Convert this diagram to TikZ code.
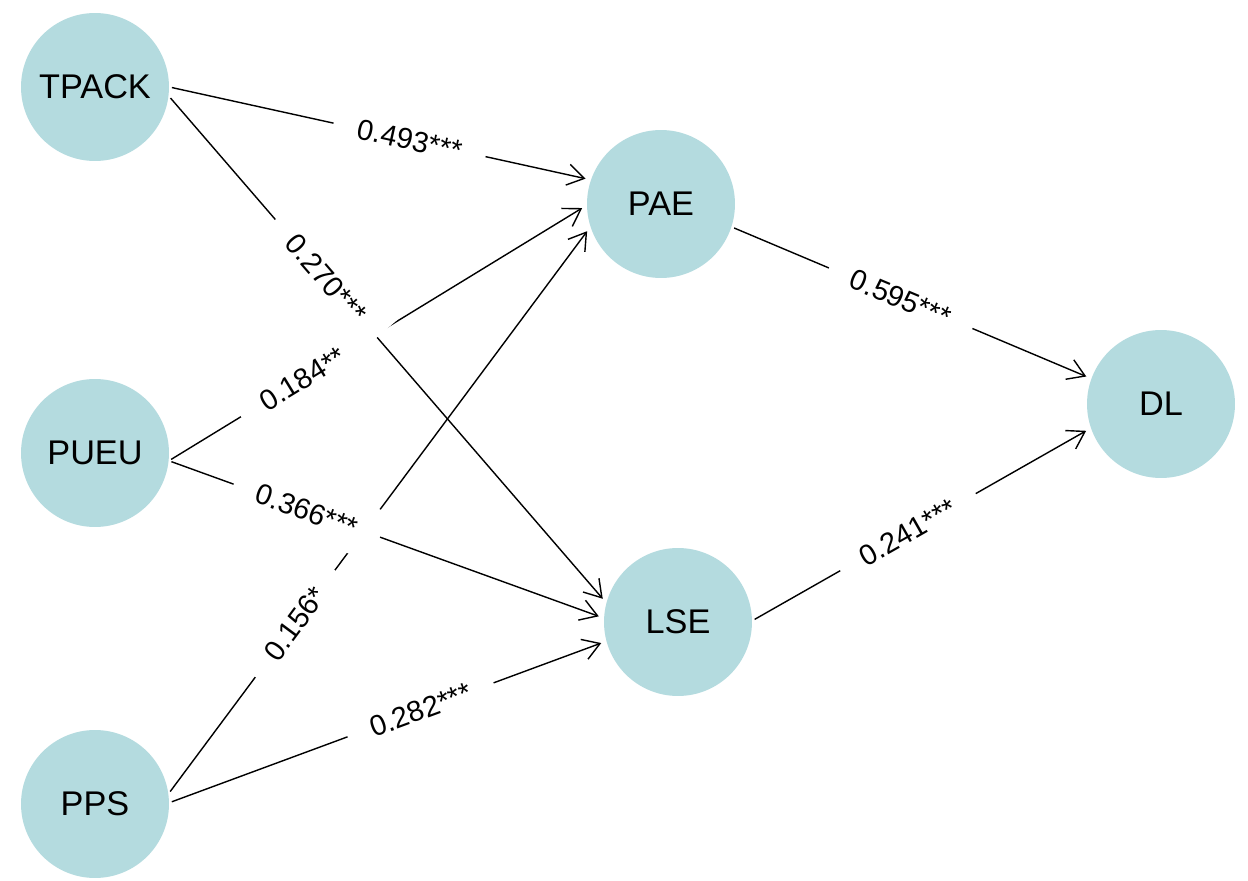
\documentclass[tikz,border=0pt]{standalone}
\usepackage{fontspec}
\setmainfont{Liberation Sans}
\usetikzlibrary{arrows.meta}
\definecolor{nodefill}{RGB}{180,219,223}
\begin{document}
\begin{tikzpicture}[x=0.02cm,y=-0.02cm,
  var/.style={circle, fill=nodefill, draw=none, minimum size=2.96cm, inner sep=0pt,
    font=\fontsize{19.5}{23}\selectfont},
  edge/.style={draw=black, line width=0.8pt,
    -{Straight Barb[length=9.5pt,width=12pt,line width=0.8pt]},
    shorten >=3pt, shorten <=1.5pt},
  lab/.style={fill=white, inner xsep=14pt, inner ysep=9pt, sloped, anchor=center,
    font=\fontsize{16.5}{19}\selectfont}]
\fill[white] (0,0) rectangle (1248,881);
\useasboundingbox (0,0) rectangle (1248,881);

\node[var] (TPACK) at (95,87) {TPACK};
\node[var] (PUEU) at (95,453) {PUEU};
\node[var] (PPS) at (95,804) {PPS};
\node[var] (PAE) at (661,204) {PAE};
\node[var] (LSE) at (678,622) {LSE};
\node[var] (DL) at (1161,404) {DL};

\draw[edge] (TPACK.0) -- (PAE.161);
\draw[edge] (TPACK.-7.5) -- (LSE.165);
\draw[edge] (PUEU.-6.5) -- (PAE.181);
\draw[edge] (PUEU.-6.5) -- (LSE.177);
\draw[edge] (PPS.8) -- (PAE.198);
\draw[edge] (PPS.1.5) -- (LSE.195);
\draw[edge] (PAE.-18) -- (DL.160);
\draw[edge] (LSE.1) -- (DL.199);

\path (TPACK.0) -- (PAE.161) node[lab,pos=0.57] (l1) {0.493***};
\path (TPACK.-7.5) -- (LSE.165) node[lab,pos=0.36] (l2) {0.270***};
\path (PUEU.-6.5) -- (PAE.181) node[lab,pos=0.32] (l3) {0.184**};
\path (PUEU.-6.5) -- (LSE.177) node[lab,pos=0.317] (l4) {0.366***};
\path (PPS.8) -- (PAE.198) node[lab,pos=0.30] (l5) {0.156*};
\path (PPS.1.5) -- (LSE.195) node[lab,pos=0.575] (l6) {0.282***};
\path (PAE.-18) -- (DL.160) node[lab,pos=0.47] (l7) {0.595***};
\path (LSE.1) -- (DL.199) node[lab,pos=0.46] (l8) {0.241***};
\end{tikzpicture}
\end{document}
